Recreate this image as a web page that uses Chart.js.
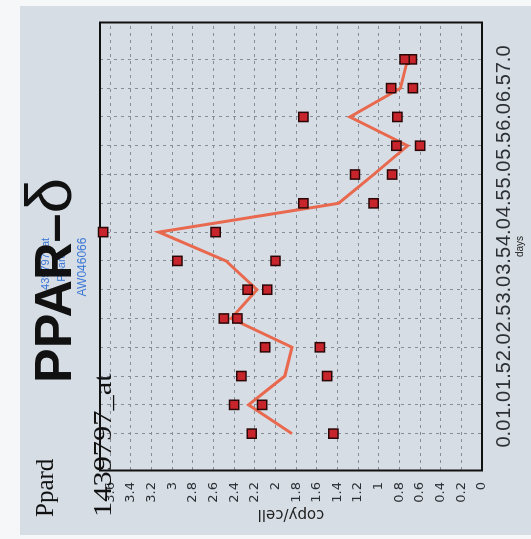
<!DOCTYPE html>
<html>
<head>
<meta charset="utf-8">
<script src="https://cdn.jsdelivr.net/npm/chart.js@4.4.1/dist/chart.umd.min.js"></script>
<style>
  html, body { margin: 0; padding: 0; background: #f6f7f8; overflow: hidden; width: 531px; height: 539px; }
  /* the sheet is laid out upright, then turned a quarter turn */
  #sheet { position: absolute; left: -4px; top: 4px; width: 539px; height: 531px;
           transform: rotate(-90deg); transform-origin: 50% 50%; }
  #paper { position: absolute; left: 4px; top: 20px; width: 529px; height: 511px; background: #d6dde5; }
  #chart { position: absolute; left: 0; top: 0; }
  .t { position: absolute; white-space: nowrap; }
  #gene  { left: 22px; top: 32px; font: 25px/25px "Liberation Serif", serif; color: #111; }
  #probe { left: 22px; top: 90px; font: 26px/26px "Liberation Serif", serif; color: #111;
           transform: scaleX(1.17); transform-origin: 0 0; }
  #title { left: 156px; top: 23px; font: bold 52px/52px "Liberation Sans", Arial, sans-serif; color: #111; }
  #title span { font-weight: normal; font-size: 64px; }
  .info { left: 212px; width: 120px; text-align: center; font: 11px/11px "Liberation Sans", Arial, sans-serif; color: #3b78d6; }
  #info1 { top: 40px; }
  #info2 { top: 56px; }
  #info3 { top: 76px; font-size: 12px; line-height: 12px; }
</style>
</head>
<body>
<div id="sheet">
  <div id="paper"></div>
  <canvas id="chart" width="539" height="531"></canvas>
  <div class="t" id="gene">Ppard</div>
  <div class="t info" id="info1">1439797_at</div>
  <div class="t info" id="info2">Ppard</div>
  <div class="t info" id="info3">AW046066</div>
  <div class="t" id="title">PPAR–<span>δ</span></div>
  <div class="t" id="probe">1439797_at</div>
</div>
<script>
// time points (days) and copy/cell axis ticks
const dayLabels = ['0.0', '1.0', '1.5', '2.0', '2.5', '3.0', '3.5', '4.0', '4.5', '5.0', '5.5', '6.0', '6.5', '7.0'];
const copyTicks = [0, 0.2, 0.4, 0.6, 0.8, 1, 1.2, 1.4, 1.6, 1.8, 2, 2.2, 2.4, 2.6, 2.8, 3, 3.2, 3.4, 3.6];

// replicate measurements (copy/cell) and their average profile
const replicateA = [2.23, 2.40, 2.33, 2.10, 2.50, 2.27, 2.95, 3.67, 1.73, 1.23, 0.83, 1.73, 0.88, 0.75];
const replicateB = [1.44, 2.13, 1.50, 1.57, 2.37, 2.08, 2.00, 2.58, 1.05, 0.87, 0.60, 0.82, 0.67, 0.68];
const meanCopy   = [1.84, 2.26, 1.91, 1.84, 2.43, 2.18, 2.48, 3.13, 1.39, 1.05, 0.72, 1.28, 0.79, 0.72];

const toPoints = arr => arr.map((y, i) => ({ x: i, y }));

// black frame round the plotting area
const frame = {
  id: 'frame',
  beforeDatasetsDraw(chart) {
    const { ctx, chartArea: a } = chart;
    ctx.save();
    ctx.strokeStyle = '#111';
    ctx.lineWidth = 2;
    ctx.strokeRect(a.left, a.top, a.right - a.left, a.bottom - a.top);
    ctx.restore();
  }
};

const gridStyle = { color: '#868d95', lineWidth: 1, drawTicks: false };

const markerStyle = {
  pointStyle: 'rect',
  pointRadius: 6.5,
  pointHoverRadius: 6.5,
  backgroundColor: '#c8242c',
  borderColor: '#2a0808',
  borderWidth: 1.5,
  showLine: false,
  clip: false,
  order: 1
};

new Chart(document.getElementById('chart'), {
  type: 'scatter',
  data: {
    datasets: [
      {
        label: 'mean',
        data: toPoints(meanCopy),
        showLine: true,
        borderColor: '#e9694f',
        borderWidth: 3,
        pointRadius: 0,
        tension: 0,
        order: 2
      },
      Object.assign({ label: 'rep A', data: toPoints(replicateA) }, markerStyle),
      Object.assign({ label: 'rep B', data: toPoints(replicateB) }, markerStyle)
    ]
  },
  options: {
    responsive: false,
    animation: false,
    layout: { padding: { top: 100, right: 22.5, left: 0, bottom: 0 } },
    plugins: { legend: { display: false }, tooltip: { enabled: false } },
    scales: {
      x: {
        type: 'linear',
        position: 'bottom',
        min: -1.28,
        max: dayLabels.length - 1 + 1.28,
        afterBuildTicks: s => { s.ticks = dayLabels.map((_, i) => ({ value: i })); },
        afterFit: s => { s.height = 49; },
        ticks: {
          autoSkip: false, maxRotation: 0, minRotation: 0, padding: 10,
          color: '#2c2f33',
          font: { family: 'Liberation Sans', size: 20 },
          callback: v => dayLabels[Math.round(v)]
        },
        grid: gridStyle,
        border: { display: false, dash: [3, 4] },
        title: {
          display: true, text: 'days', color: '#222',
          font: { family: 'Liberation Sans', size: 10 },
          padding: { top: 0, bottom: 5 }
        }
      },
      y: {
        type: 'linear',
        min: 0,
        max: 3.7,
        afterBuildTicks: s => { s.ticks = copyTicks.map(v => ({ value: v })); },
        afterFit: s => { s.width = 68.5; },
        ticks: {
          padding: 11.5,
          color: '#2c2f33',
          font: { family: 'DejaVu Sans', size: 13 },
          callback: v => String(v)
        },
        grid: gridStyle,
        border: { display: false, dash: [3, 4] },
        title: {
          display: true, text: 'copy/cell', color: '#222',
          font: { family: 'DejaVu Sans', size: 15 },
          padding: { top: 16, bottom: 0 }
        }
      }
    }
  },
  plugins: [frame]
});
</script>
</body>
</html>
